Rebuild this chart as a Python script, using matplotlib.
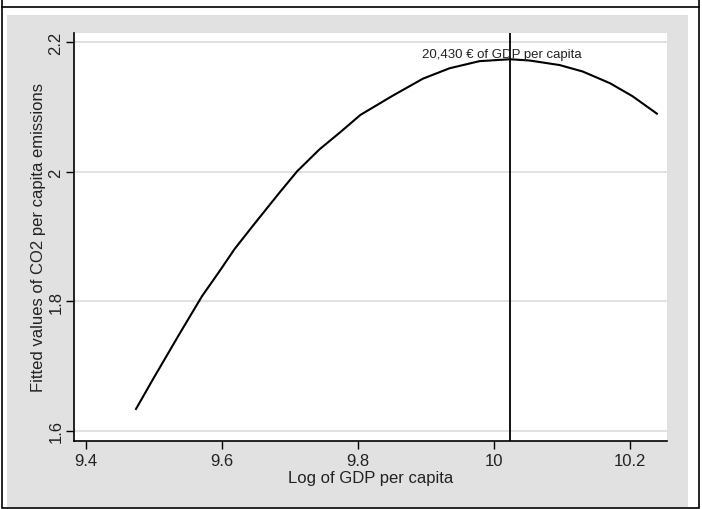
import matplotlib
matplotlib.use("Agg")
import matplotlib.pyplot as plt
from matplotlib.patches import Rectangle
from matplotlib.lines import Line2D

plt.rcParams['font.family'] = ['Liberation Sans', 'DejaVu Sans']

# fitted values
log_gdp = [9.474, 9.499, 9.538, 9.571, 9.597, 9.619, 9.646, 9.685, 9.711,
           9.744, 9.774, 9.804, 9.852, 9.896, 9.935, 9.979, 10.024, 10.053,
           10.097, 10.131, 10.171, 10.204, 10.240]
fitted_co2 = [1.634, 1.680, 1.750, 1.808, 1.847, 1.881, 1.917, 1.968, 2.001,
              2.035, 2.061, 2.088, 2.118, 2.144, 2.160, 2.171, 2.174, 2.172,
              2.165, 2.155, 2.137, 2.117, 2.090]

x_ticks = [9.4, 9.6, 9.8, 10, 10.2]
x_tick_labels = ['9.4', '9.6', '9.8', '10', '10.2']
y_ticks = [1.6, 1.8, 2.0, 2.2]
y_tick_labels = ['1.6', '1.8', '2', '2.2']

turning_point = 10.024
turning_label = '20,430 € of GDP per capita'

W, H = 702, 510
fig = plt.figure(figsize=(W / 100, H / 100), dpi=100)
fig.patch.set_facecolor('white')


def px_rect(x0, y0, x1, y1, **kw):
    # rectangle given in pixel coords (origin top-left)
    return Rectangle((x0 / W, 1 - y1 / H), (x1 - x0) / W, (y1 - y0) / H,
                     transform=fig.transFigure, **kw)


# gray graph region and outer frame
fig.add_artist(px_rect(7, 16, 688, 508, facecolor='#e1e1e1', edgecolor='none', zorder=0))
fig.add_artist(px_rect(1.5, 7.5, 699, 508.5, facecolor='none', edgecolor='black', lw=1.2, zorder=5))
fig.add_artist(Line2D([1.5 / W, 1.5 / W], [1, 1 - 7.5 / H], transform=fig.transFigure, color='black', lw=1.2))
fig.add_artist(Line2D([699 / W, 699 / W], [1, 1 - 7.5 / H], transform=fig.transFigure, color='black', lw=1.2))

ax = fig.add_axes([74 / W, 1 - 442 / H, (667 - 74) / W, (442 - 34) / H])
ax.set_facecolor('white')
ax.set_xlim(9.3828, 10.2549)
ax.set_ylim(1.5845, 2.2145)

ax.plot(log_gdp, fitted_co2, color='black', lw=1.5, zorder=3)
ax.axvline(turning_point, color='black', lw=1.3, zorder=3)
ax.text(10.012, 2.1816, turning_label, ha='center', va='center', fontsize=9.5,
        color='#222222', zorder=4)

ax.set_xticks(x_ticks)
ax.set_xticklabels(x_tick_labels)
ax.set_yticks(y_ticks)
ax.set_yticklabels(y_tick_labels, rotation=90, va='center')
ax.tick_params(direction='out', length=6, width=1, labelsize=12, colors='black',
               labelcolor='#222222')
ax.tick_params(axis='x', pad=3)
ax.tick_params(axis='y', pad=1.5)
ax.grid(axis='y', color='#dcdcdc', lw=1.2)
ax.set_axisbelow(True)

for side in ['top', 'right']:
    ax.spines[side].set_visible(False)
for side in ['left', 'bottom']:
    ax.spines[side].set_linewidth(1.2)

ax.set_xlabel('Log of GDP per capita', fontsize=12, labelpad=1, color='#222222')
ax.set_ylabel('Fitted values of CO2 per capita emissions', fontsize=12, labelpad=1.5,
              color='#222222')

plt.savefig('out.png', dpi=100)
